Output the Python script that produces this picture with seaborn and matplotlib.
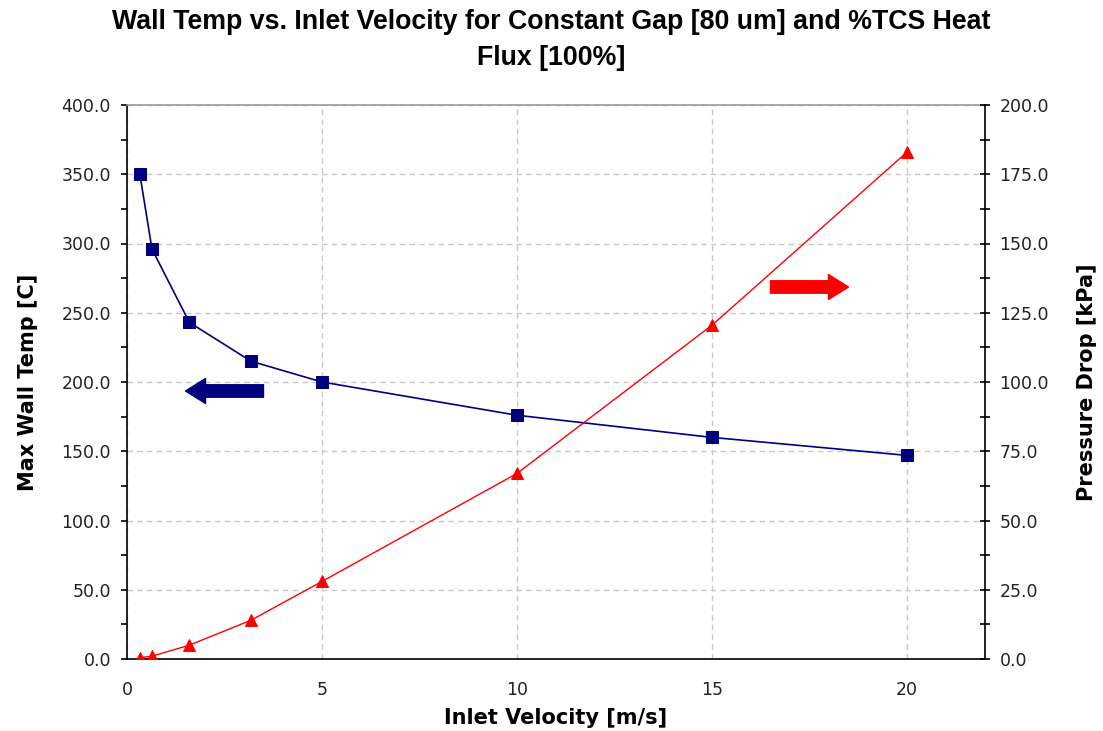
import matplotlib
matplotlib.use("Agg")
import matplotlib.pyplot as plt
from matplotlib import font_manager
import seaborn as sns
import pandas as pd
from matplotlib.ticker import MultipleLocator, FormatStrFormatter

velocity = [0.33, 0.64, 1.6, 3.18, 5, 10, 15, 20]
wall_temp = [350, 296, 243, 215, 200, 176, 160, 147]
pressure_drop = [0.5, 1.0, 5.0, 14.0, 28.0, 67.0, 120.5, 183.0]

title = "Wall Temp vs. Inlet Velocity for Constant Gap [80 um] and %TCS Heat\nFlux [100%]"

sns.set_style("white")
plt.rcParams['font.family'] = ['DejaVu Sans']

names = {f.name for f in font_manager.fontManager.ttflist}
if "Liberation Sans Narrow" in names:
    title_font = dict(family=["Liberation Sans Narrow", "DejaVu Sans"], fontsize=23.5)
else:
    title_font = dict(family=["Liberation Sans", "DejaVu Sans"], fontsize=19.3)

df = pd.DataFrame({"v": velocity, "t": wall_temp, "p": pressure_drop})

fig = plt.figure(figsize=(11.03, 7.31), dpi=100)
ax = fig.add_axes([127/1103, 1-659/731, (985-127)/1103, (659-105)/731])
ax2 = ax.twinx()

sns.lineplot(data=df, x="v", y="t", ax=ax, color="#00007f", marker="s",
             markersize=8, markeredgecolor="#00007f", linewidth=1.2, zorder=3)
sns.lineplot(data=df, x="v", y="p", ax=ax2, color="#ff0000", marker="^",
             markersize=9, markeredgecolor="#ff0000", linewidth=1.0, zorder=3)

ax.set_xlim(0, 22)
ax.set_ylim(0, 400)
ax2.set_ylim(0, 200)

ax.xaxis.set_major_locator(MultipleLocator(5))
ax.xaxis.set_minor_locator(MultipleLocator(1))
ax.yaxis.set_major_locator(MultipleLocator(50))
ax.yaxis.set_minor_locator(MultipleLocator(25))
ax.yaxis.set_major_formatter(FormatStrFormatter("%.1f"))
ax2.yaxis.set_major_locator(MultipleLocator(25))
ax2.yaxis.set_minor_locator(MultipleLocator(12.5))
ax2.yaxis.set_major_formatter(FormatStrFormatter("%.1f"))

ax.grid(True, which="major", color="#c8c8c8", linestyle=(0, (4, 3)), linewidth=1)
ax.set_axisbelow(True)

for a in (ax, ax2):
    for s in a.spines.values():
        s.set_visible(False)
ax.spines["left"].set_visible(True)
ax.spines["bottom"].set_visible(True)
ax.spines["top"].set_visible(True)
ax2.spines["right"].set_visible(True)
ax.spines["left"].set_color("black")
ax.spines["bottom"].set_color("black")
ax.spines["top"].set_color("#999999")
ax2.spines["right"].set_color("black")
for s in ("left", "bottom", "top"):
    ax.spines[s].set_linewidth(1.2)
ax2.spines["right"].set_linewidth(1.2)

ax.tick_params(axis="both", which="both", direction="out", color="black",
               labelsize=12.5, labelcolor="#222222", width=1.2, length=4.5)
ax.tick_params(axis="y", pad=7)
ax.tick_params(axis="x", pad=11)
ax2.tick_params(axis="y", which="both", direction="inout", color="black",
                labelsize=12.5, labelcolor="#222222", width=1.2, length=7, pad=7)

lab = dict(fontsize=15, fontweight="bold", color="black")
ax.set_xlabel("Inlet Velocity [m/s]", labelpad=7, **lab)
ax.set_ylabel("Max Wall Temp [C]", labelpad=17, **lab)
ax2.set_ylabel("Pressure Drop [kPa]", labelpad=20, **lab)

fig.suptitle(title, fontweight="bold", color="black", y=0.988, linespacing=1.5,
             **title_font)

arrow_style = "simple,head_length=0.8,head_width=1.0,tail_width=0.5"
ax.annotate("", xy=(1.5, 193.5), xytext=(3.5, 193.5),
            arrowprops=dict(arrowstyle=arrow_style, color="#00007f",
                            mutation_scale=18, shrinkA=0, shrinkB=0))
ax.annotate("", xy=(18.5, 268.6), xytext=(16.5, 268.6),
            arrowprops=dict(arrowstyle=arrow_style, color="#ff0000",
                            mutation_scale=18, shrinkA=0, shrinkB=0))

fig.savefig("out.png", dpi=100)
